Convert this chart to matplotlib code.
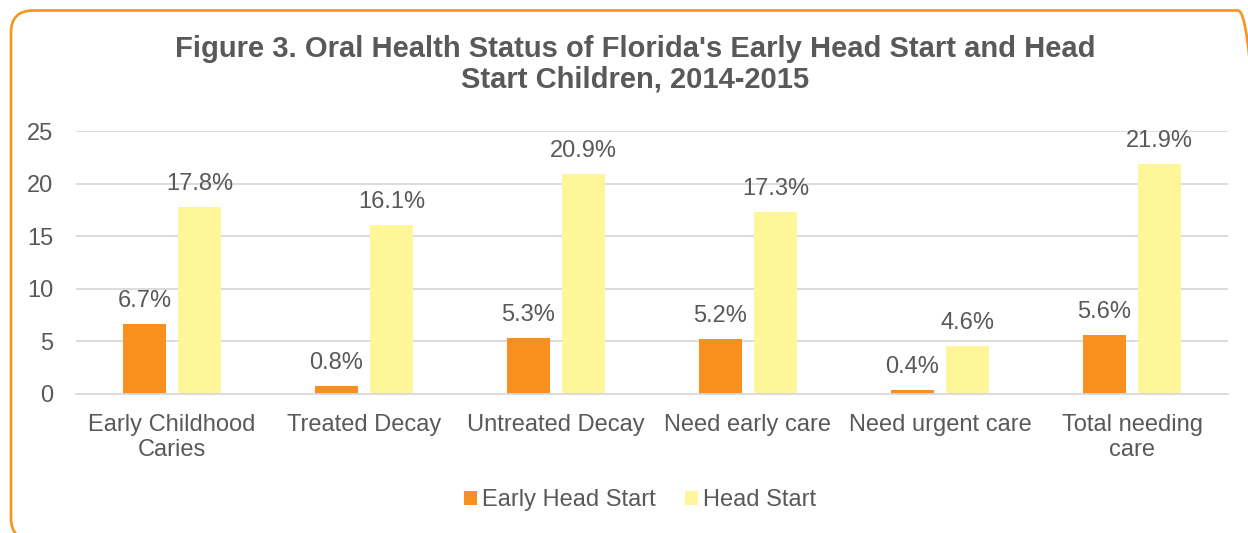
import matplotlib
matplotlib.use("Agg")
import matplotlib.pyplot as plt
import numpy as np
from matplotlib.patches import FancyBboxPatch
from matplotlib.transforms import IdentityTransform

plt.rcParams['font.family'] = ['Liberation Sans', 'DejaVu Sans']

categories = ["Early Childhood\nCaries", "Treated Decay", "Untreated Decay",
              "Need early care", "Need urgent care", "Total needing\ncare"]
early_head_start = [6.7, 0.8, 5.3, 5.2, 0.4, 5.6]
head_start = [17.8, 16.1, 20.9, 17.3, 4.6, 21.9]
series_names = ["Early Head Start", "Head Start"]
title = "Figure 3. Oral Health Status of Florida's Early Head Start and Head\nStart Children, 2014-2015"
yticks = [0, 5, 10, 15, 20, 25]

TEXT = "#595959"
ORANGE = "#F7901E"
YELLOW = "#FFF69A"
GRID = "#D9D9D9"

W, H = 1248, 533
fig = plt.figure(figsize=(W / 100, H / 100), dpi=100)
fig.patch.set_facecolor("white")

# rounded orange border (figure pixel coordinates -> figure fraction)
x0, y0_top, x1, y1_bot, rad = 11, 10.5, 1260, 540, 22
border = FancyBboxPatch((x0 + rad, H - y1_bot + rad), x1 - x0 - 2 * rad, y1_bot - y0_top - 2 * rad,
                        boxstyle=f"round,pad={rad}",
                        facecolor="none", edgecolor="#F7941D", linewidth=1.9,
                        clip_on=False)
border.set_transform(IdentityTransform())
fig.add_artist(border)

ax = fig.add_axes([76 / W, 1 - 394 / H, 1152 / W, 263 / H])
x = np.arange(len(categories))
bw = 0.222
off = 0.144
b1 = ax.bar(x - off, early_head_start, bw, color=ORANGE, label=series_names[0], zorder=3)
b2 = ax.bar(x + off, head_start, bw, color=YELLOW, label=series_names[1], zorder=3)

for bars, vals in ((b1, early_head_start), (b2, head_start)):
    for r, v in zip(bars, vals):
        ax.annotate(f"{v:.1f}%", (r.get_x() + r.get_width() / 2, v),
                    xytext=(0, 16.5), textcoords="offset points",
                    ha="center", va="center", fontsize=17, color=TEXT)

ax.set_xlim(-0.5, len(categories) - 0.5)
ax.set_ylim(0, 25)
ax.set_yticks(yticks)
ax.set_xticks(x)
ax.set_xticklabels(categories, fontsize=17, color=TEXT, linespacing=1.17)
ax.tick_params(axis="y", length=0, pad=16.5, labelsize=17, labelcolor=TEXT)
ax.tick_params(axis="x", length=0, pad=14.5, labelsize=17, labelcolor=TEXT)
ax.yaxis.grid(True, color=GRID, linewidth=1.3, zorder=0)
for s in ("top", "right", "left"):
    ax.spines[s].set_visible(False)
ax.spines["bottom"].set_color(GRID)
ax.spines["bottom"].set_linewidth(1.3)
ax.spines["bottom"].set_zorder(4)

fig.text(635 / W, 1 - 64 / H, title, ha="center", va="center",
         fontsize=21, fontweight="bold", color=TEXT, linespacing=1.1)

fig.legend(handles=[b1, b2], labels=series_names, loc="center",
           bbox_to_anchor=(640 / W, 1 - 500 / H), ncol=2, frameon=False,
           fontsize=17, labelcolor=TEXT, handlelength=0.55, handleheight=0.55,
           handletextpad=0.22, columnspacing=1.25)

fig.savefig("out.png", dpi=100, facecolor="white")
